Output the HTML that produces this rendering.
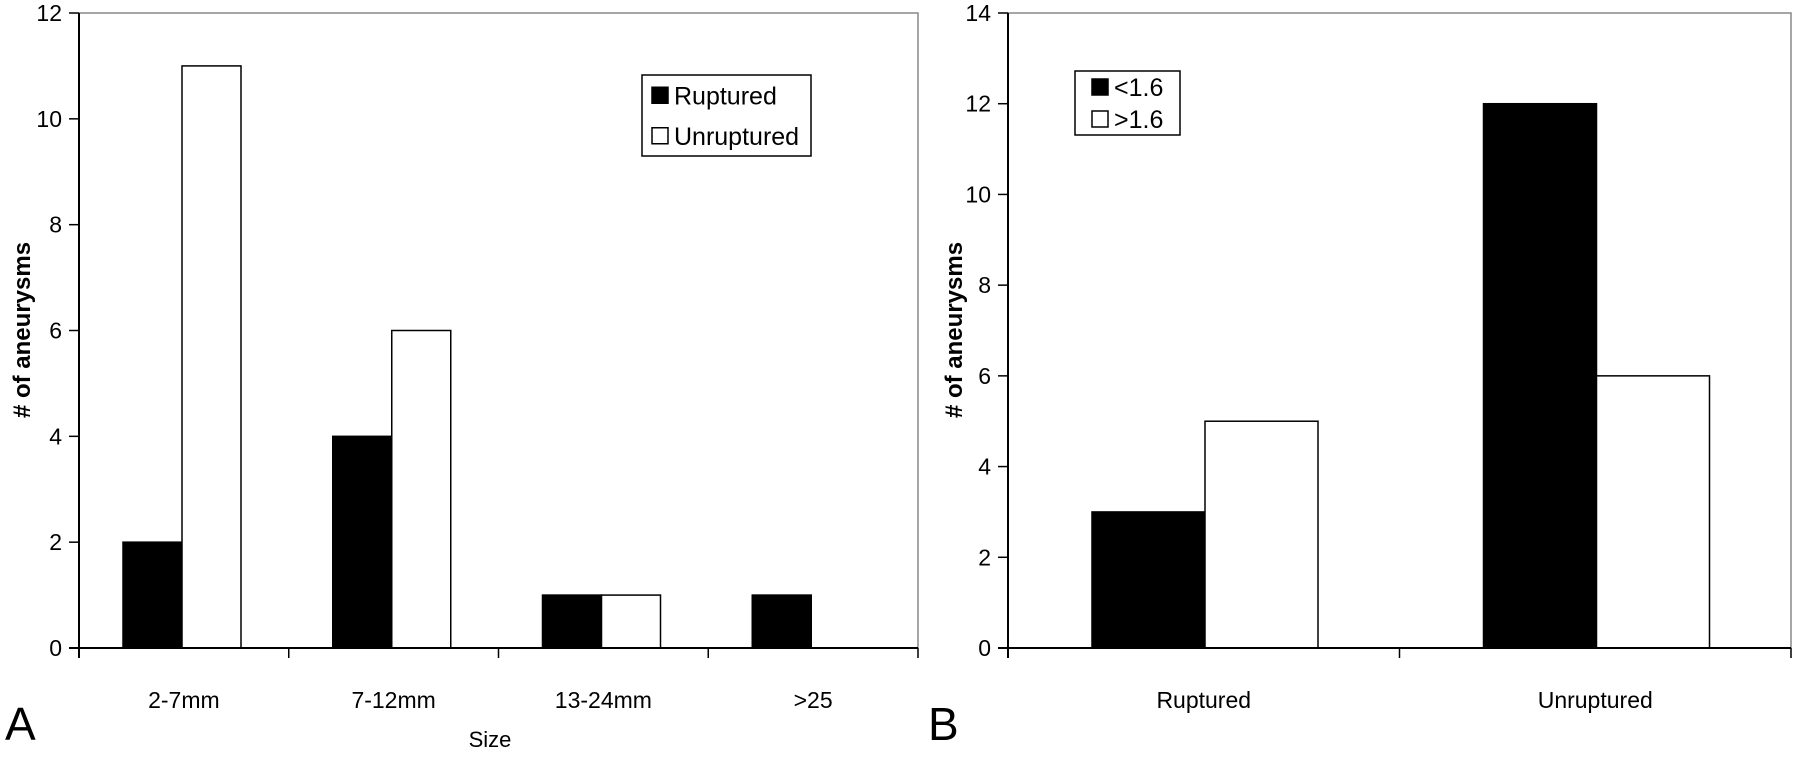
<!DOCTYPE html>
<html><head><meta charset="utf-8"><style>
html,body{margin:0;padding:0;background:#fff;}
svg{display:block;font-family:"Liberation Sans",Arial,sans-serif;}
</style></head><body>
<svg id="c" width="1800" height="762" xmlns="http://www.w3.org/2000/svg"></svg>
<script>
const catsA = ["2-7mm","7-12mm","13-24mm",">25"];
const rupturedA = [2,4,1,1];
const unrupturedA = [11,6,1,0];
const ticksA = [0,2,4,6,8,10,12];
const catsB = ["Ruptured","Unruptured"];
const lowB = [3,12];
const highB = [5,6];
const ticksB = [0,2,4,6,8,10,12,14];

const NS="http://www.w3.org/2000/svg";
const svg=document.getElementById('c');
function mk(tag,attrs,parent,text){const e=document.createElementNS(NS,tag);for(const k in attrs)e.setAttribute(k,attrs[k]);if(text!==undefined)e.textContent=text;(parent||svg).appendChild(e);return e;}

function chart(o){
  const g=mk('g',{});
  
  
  const top=13,bot=648;
  const y=v=>bot-(v/o.max)*(bot-top);
  const cw=(o.x1-o.x0)/o.cats.length;
  // plot frame top/right
  const fr=mk('polyline',{points:`${o.x0},${top} ${o.x1},${top} ${o.x1},${bot}`,fill:'none',stroke:'#888','stroke-width':1.5},g);
  
  
  // bars
  o.series.forEach((s,si)=>{
    s.vals.forEach((v,i)=>{
      if(v<=0)return;
      const bx=o.x0+i*cw+o.off+si*o.bw;
      const r=mk('rect',{x:bx,y:y(v),width:o.bw,height:bot-y(v),fill:s.fill,stroke:'#000','stroke-width':1.5},g);
      
      
    });
  });
  // axes
  const ya=mk('line',{x1:o.x0,y1:top,x2:o.x0,y2:bot+10,stroke:'#000','stroke-width':2},g);
  
  
  const xa=mk('line',{x1:o.x0-10,y1:bot,x2:o.x1,y2:bot,stroke:'#000','stroke-width':2},g);
  
  
  o.ticks.forEach(t=>{
    mk('line',{x1:o.x0-10,y1:y(t),x2:o.x0,y2:y(t),stroke:'#000','stroke-width':1.5},g);
    const tl=mk('text',{x:o.x0-17,y:y(t)+8,'text-anchor':'end','font-size':23},g,String(t));
    
    
  });
  o.cats.forEach((c,i)=>{
    mk('line',{x1:o.x0+(i+1)*cw,y1:bot,x2:o.x0+(i+1)*cw,y2:bot+10,stroke:'#000','stroke-width':1.5},g);
    const cl=mk('text',{x:o.x0+(i+0.5)*cw,y:708,'text-anchor':'middle','font-size':23},g,c);
    
    
  });
  const yt=mk('text',{transform:`translate(${o.ytx},${o.yty}) rotate(-90)`,'text-anchor':'middle','font-size':24,'font-weight':'bold'},g,'# of aneurysms');
  
  
  // legend
  const L=o.leg;
  mk('rect',{x:L.x,y:L.y,width:L.w,height:L.h,fill:'#fff',stroke:'#000','stroke-width':1.5},g);
  o.series.forEach((s,si)=>{
    const ry=L.y+L.h*(si+0.5)/2;
    const sw=mk('rect',{x:L.x+L.sx,y:ry-8,width:16,height:16,fill:s.fill,stroke:'#000','stroke-width':1.5},g);
    
    
    const lt=mk('text',{x:L.x+L.sx+22,y:ry+9,'font-size':L.fs},g,s.label);
    
    
  });
  const pl=mk('text',{x:o.px,y:740,'font-size':46},g,o.panel);
  
  
}

chart({name:'chart-a-size',x0:79,x1:918,max:12,cats:catsA,ticks:ticksA,off:44,bw:59,
  series:[{key:'ruptured',label:'Ruptured',vals:rupturedA,fill:'#000'},{key:'unruptured',label:'Unruptured',vals:unrupturedA,fill:'#fff'}],
  leg:{x:642,y:75,w:169,h:81,sx:10,fs:25},ytx:30,yty:330,panel:'A',px:5});
chart({name:'chart-b-ratio',x0:1008,x1:1791,max:14,cats:catsB,ticks:ticksB,off:84,bw:113,
  series:[{key:'lt16',label:'<1.6',vals:lowB,fill:'#000'},{key:'gt16',label:'>1.6',vals:highB,fill:'#fff'}],
  leg:{x:1075,y:71,w:105,h:64,sx:17,fs:25},ytx:962,yty:330,panel:'B',px:928});

const xt=mk('text',{x:490,y:747,'text-anchor':'middle','font-size':22});
xt.textContent='Size';


</script>
</body></html>
